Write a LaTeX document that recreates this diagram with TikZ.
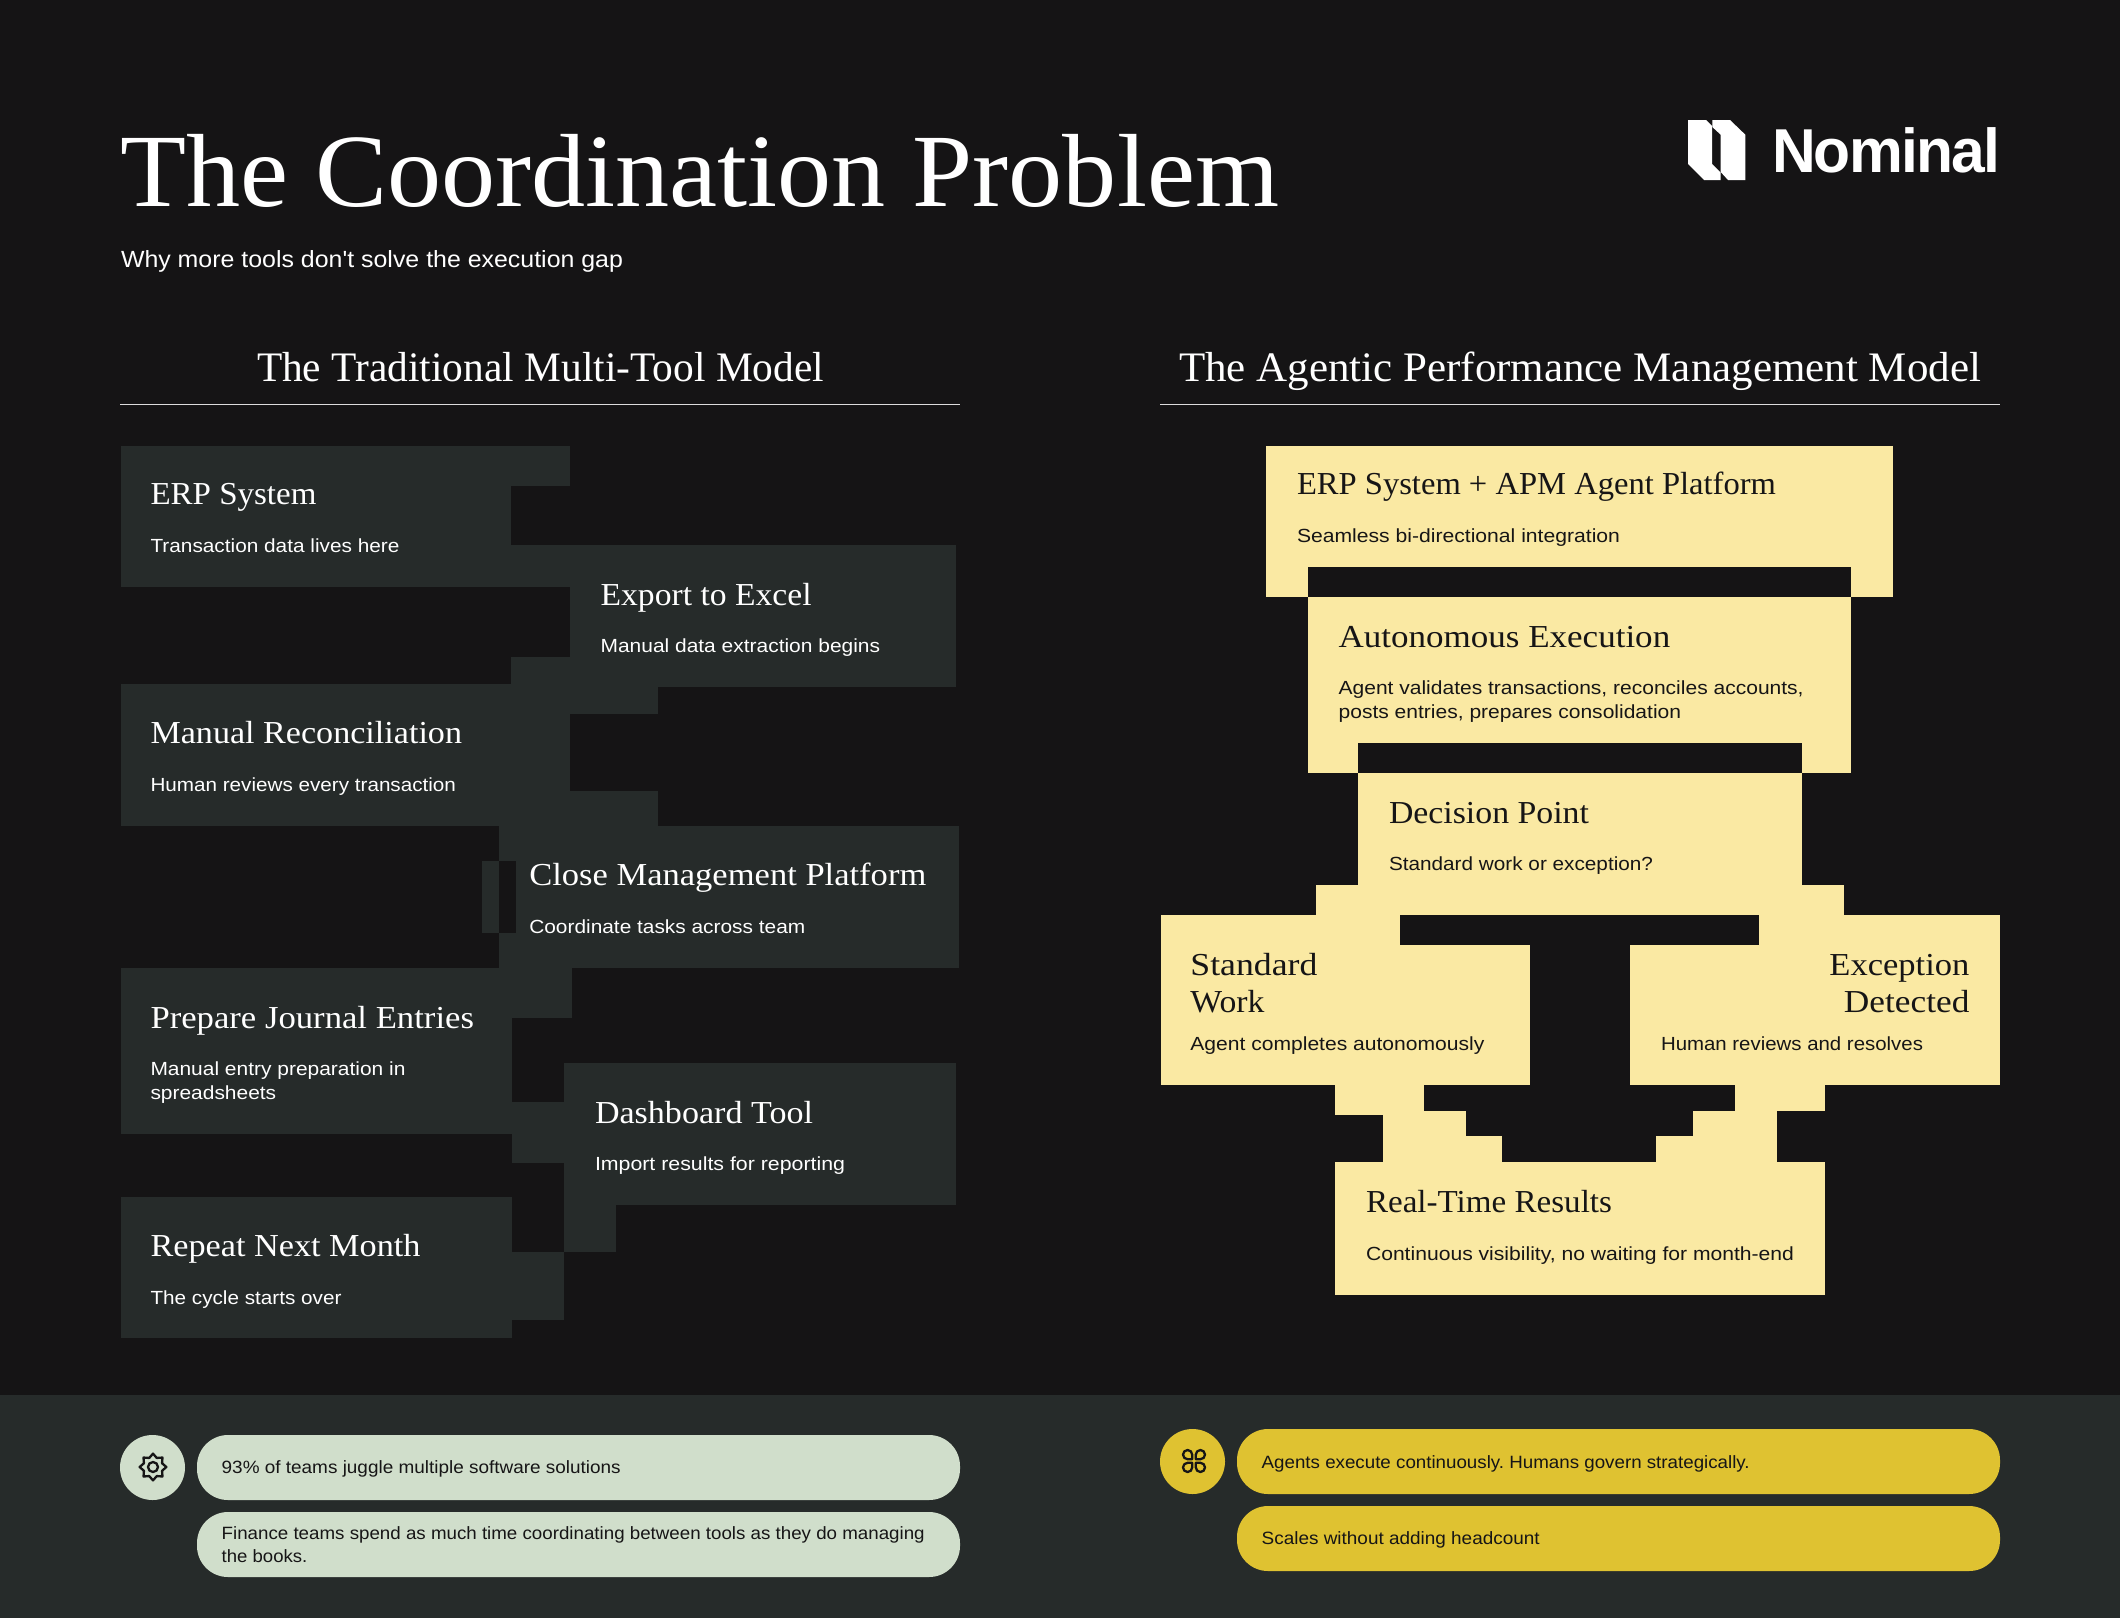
\documentclass[tikz,border=0pt]{standalone}
\usepackage{fontspec}
\usepackage{graphicx}
\setmainfont{Liberation Serif}
\setsansfont{Liberation Sans}
\newfontfamily\plainsans{Liberation Sans}
\newfontfamily\logofont[LetterSpace=-3.0]{Liberation Sans}
\newdimen\pxu \pxu=0.5pt
\definecolor{bgc}{HTML}{151415}
\definecolor{card}{HTML}{262B2A}
\definecolor{cream}{HTML}{FAE9A3}
\definecolor{ink}{HTML}{161516}
\definecolor{sage}{HTML}{D0DECB}
\definecolor{gold}{HTML}{DFC231}
\newcommand\ft[3]{\resizebox{#1\pxu}{\height}{\frenchspacing#2#3}}
\newcommand\fTitle{\fontsize{52pt}{52pt}\selectfont}
\newcommand\fHead{\fontsize{21pt}{21pt}\selectfont}
\newcommand\fBox{\fontsize{16pt}{16pt}\selectfont}
\newcommand\fSub{\sffamily\fontsize{9.5pt}{9.5pt}\selectfont}
\newcommand\fIntro{\plainsans\fontsize{11.7pt}{11.7pt}\selectfont}
\newcommand\fPill{\sffamily\fontsize{8.9pt}{8.9pt}\selectfont}
\newcommand\fLogo{\logofont\bfseries\fontsize{31pt}{31pt}\selectfont}
\tikzset{
  tx/.style={anchor=base west,inner sep=0pt,outer sep=0pt,text=white},
  txr/.style={tx,anchor=base east},
  dk/.style={text=ink},
  cardfill/.style={fill=card},
  creamfill/.style={fill=cream},
  gap/.style={fill=bgc},
  rulel/.style={draw=white!85!bgc,line width=0.5pt},
  sagepill/.style={fill=sage,rounded corners=15.5pt},
  goldpill/.style={fill=gold,rounded corners=15.5pt},
  icon/.style={draw=ink,line width=1.15pt,line join=round}
}
\begin{document}
\begin{tikzpicture}[x=0.5pt,y=-0.5pt]
\useasboundingbox (0,0) rectangle (2120,1617);
\fill[bgc] (-4,-4) rectangle (2124,1621);
\fill[card] (-4,1395) rectangle (2124,1621);

% left stepped stack
\foreach \a/\b/\c/\d in {121/446/570/486, 121/486/511/587, 511/545/570/587, 570/545/956/687,
  511/657/658/714, 121/684/570/826, 570/791/658/826, 499/826/959/968, 482/861/499/933,
  121/968/512/1134, 512/968/572/1018, 512/1102/564/1163, 564/1063/956/1205, 564/1205/616/1252,
  121/1197/512/1338, 512/1252/564/1320}
  \fill[cardfill] (\a,\b) rectangle (\c,\d);
\fill[gap] (499,861) rectangle (516,933);

% right stepped stack
\foreach \a/\b/\c/\d in {1266/446/1893/597, 1308/597/1851/773, 1358/773/1802/915, 1316/885/1844/915,
  1161/915/1400/945, 1161/945/1530/1085, 1759/915/2000/945, 1630/945/2000/1085,
  1335/1085/1424/1111, 1335/1111/1383/1115, 1383/1111/1466/1162, 1466/1136/1502/1162,
  1335/1162/1825/1295, 1735/1085/1825/1111, 1693/1111/1777/1162, 1656/1136/1693/1162}
  \fill[creamfill] (\a,\b) rectangle (\c,\d);
\fill[gap] (1308,567) rectangle (1851,597);
\fill[gap] (1358,743) rectangle (1802,773);

% header
\node[tx] (title) at (120,206) {\ft{1159}{\fTitle}{The Coordination Problem}};
\node[tx] (subtitle) at (121,267) {\ft{502}{\fIntro}{Why more tools don't solve the execution gap}};
\fill[white] (1688,120) -- (1706,120) -- (1712,126) -- (1712,164) -- (1720.7,172.7) -- (1720.7,180) -- (1704,180) -- (1688,164) -- cycle;
\fill[white] (1712.3,120) -- (1730,120) -- (1745.3,134.7) -- (1745.3,180) -- (1728,180) -- (1720.7,172) -- (1720.7,134.7) -- (1712.3,127) -- cycle;
\node[tx] (logo) at (1772,172) {\ft{228}{\fLogo}{Nominal}};

\node[tx] (headl) at (257,381) {\ft{567}{\fHead}{The Traditional Multi-Tool Model}};
\node[tx] (headr) at (1179,381) {\ft{802}{\fHead}{The Agentic Performance Management Model}};
\coordinate (rl0) at (120,404); \coordinate (rl1) at (960,404);
\coordinate (rr0) at (1160,404); \coordinate (rr1) at (2000,404);
\draw[rulel] (rl0) -- (rl1);
\draw[rulel] (rr0) -- (rr1);

% left texts
\node[tx] (a1) at (150.5,504) {\ft{166}{\fBox}{ERP System}};
\node[tx] (a2) at (150.5,552) {\ft{249}{\fSub}{Transaction data lives here}};
\node[tx] (b1) at (600.6,605) {\ft{211}{\fBox}{Export to Excel}};
\node[tx] (b2) at (600.6,652) {\ft{279.5}{\fSub}{Manual data extraction begins}};
\node[tx] (c1) at (150.5,743.5) {\ft{311.5}{\fBox}{Manual Reconciliation}};
\node[tx] (c2) at (150.5,791) {\ft{305.5}{\fSub}{Human reviews every transaction}};
\node[tx] (d1) at (529.3,885) {\ft{397}{\fBox}{Close Management Platform}};
\node[tx] (d2) at (529.3,933) {\ft{276}{\fSub}{Coordinate tasks across team}};
\node[tx] (e1) at (150.5,1028) {\ft{323.5}{\fBox}{Prepare Journal Entries}};
\node[tx] (e2) at (150.5,1075) {\ft{255}{\fSub}{Manual entry preparation in}};
\node[tx] (e3) at (150.5,1099) {\ft{125.7}{\fSub}{spreadsheets}};
\node[tx] (f1) at (595,1123) {\ft{218}{\fBox}{Dashboard Tool}};
\node[tx] (f2) at (595,1170) {\ft{250}{\fSub}{Import results for reporting}};
\node[tx] (g1) at (150.5,1256) {\ft{270}{\fBox}{Repeat Next Month}};
\node[tx] (g2) at (150.5,1304) {\ft{191}{\fSub}{The cycle starts over}};

% right texts
\node[tx,dk] (p1) at (1297,494) {\ft{479}{\fBox}{ERP System + APM Agent Platform}};
\node[tx,dk] (p2) at (1297,542) {\ft{323}{\fSub}{Seamless bi-directional integration}};
\node[tx,dk] (q1) at (1338.6,647) {\ft{331.6}{\fBox}{Autonomous Execution}};
\node[tx,dk] (q2) at (1338.6,694) {\ft{465}{\fSub}{Agent validates transactions, reconciles accounts,}};
\node[tx,dk] (q3) at (1338.6,718) {\ft{342.5}{\fSub}{posts entries, prepares consolidation}};
\node[tx,dk] (r1) at (1389,823) {\ft{200}{\fBox}{Decision Point}};
\node[tx,dk] (r2) at (1389,870) {\ft{264}{\fSub}{Standard work or exception?}};
\node[tx,dk] (s1) at (1190.4,975) {\ft{127}{\fBox}{Standard}};
\node[tx,dk] (s2) at (1190.4,1012) {\ft{74}{\fBox}{Work}};
\node[tx,dk] (s3) at (1190.4,1050) {\ft{294}{\fSub}{Agent completes autonomously}};
\node[txr,dk] (t1) at (1969.4,975) {\ft{140}{\fBox}{Exception}};
\node[txr,dk] (t2) at (1969.4,1012) {\ft{125.5}{\fBox}{Detected}};
\node[tx,dk] (t3) at (1661,1050) {\ft{262}{\fSub}{Human reviews and resolves}};
\node[tx,dk] (u1) at (1366,1212) {\ft{246}{\fBox}{Real-Time Results}};
\node[tx,dk] (u2) at (1366,1260) {\ft{428}{\fSub}{Continuous visibility, no waiting for month-end}};

% footer left
\fill[sage] (152.5,1467.5) circle[radius=16.25pt];
\fill[sagepill] (197,1435) rectangle (960,1500);
\fill[sagepill] (197,1512) rectangle (960,1577);
\draw[icon,shift={(153,1467)}] (0:13.4) -- (22.5:9.8) -- (45:13.4) -- (67.5:9.8) -- (90:13.4) -- (112.5:9.8) -- (135:13.4) -- (157.5:9.8) -- (180:13.4) -- (202.5:9.8) -- (225:13.4) -- (247.5:9.8) -- (270:13.4) -- (292.5:9.8) -- (315:13.4) -- (337.5:9.8) -- cycle;
\draw[icon] (153,1467) circle[radius=2.5pt];
\node[tx,dk] (h1) at (221.7,1473) {\ft{399}{\fPill}{93\% of teams juggle multiple software solutions}};
\node[tx,dk] (h2) at (221.7,1539) {\ft{703}{\fPill}{Finance teams spend as much time coordinating between tools as they do managing}};
\node[tx,dk] (h3) at (221.7,1562) {\ft{85.6}{\fPill}{the books.}};

% footer right
\fill[gold] (1192.5,1461.5) circle[radius=16.25pt];
\fill[goldpill] (1237,1429) rectangle (2000,1494);
\fill[goldpill] (1237,1506) rectangle (2000,1571);
\foreach \a/\b in {1/1,-1/1,1/-1,-1/-1}
  \draw[icon,shift={(1194,1461)},xscale=\a,yscale=\b] (-1.8,-1.8) -- (-6.4,-1.8) .. controls (-8.94,-1.8) and (-11,-3.86) .. (-11,-6.4) .. controls (-11,-8.94) and (-8.94,-11) .. (-6.4,-11) .. controls (-3.86,-11) and (-1.8,-8.94) .. (-1.8,-6.4) -- cycle;
\node[tx,dk] (k1) at (1261.7,1468) {\ft{488}{\fPill}{Agents execute continuously. Humans govern strategically.}};
\node[tx,dk] (k2) at (1261.7,1544) {\ft{278}{\fPill}{Scales without adding headcount}};
\end{tikzpicture}
\end{document}
